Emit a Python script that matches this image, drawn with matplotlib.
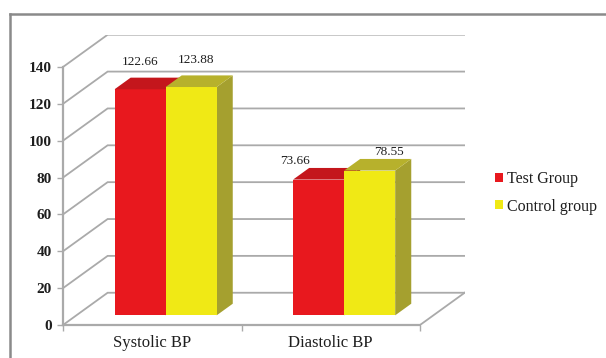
"""3-D style clustered column chart: systolic / diastolic BP, test vs control."""

import matplotlib
matplotlib.use("Agg")
import matplotlib.pyplot as plt
from matplotlib.lines import Line2D
from matplotlib.patches import Polygon

plt.rcParams["font.family"] = ["Liberation Serif", "DejaVu Serif"]

# ---- data -----------------------------------------------------------------
CATEGORIES = ["Systolic BP", "Diastolic BP"]
SERIES = ["Test Group", "Control group"]
TEST_VALUES = [122.66, 73.66]
CONTROL_VALUES = [123.88, 78.55]
Y_TICKS = [0, 20, 40, 60, 80, 100, 120, 140]

# ---- style / layout ---------------------------------------------------------
FRONT = ["#E8181E", "#F0E915"]
TOP = ["#C4161C", "#B7B12C"]
SIDE = ["#9E1216", "#A5A02F"]
GRID = "#AAAAAA"
TEXT = "#1E1E1E"

DEPTH_X, DEPTH_Y = 0.25, 17.5          # wall depth in (category, value) units
Z_FRAC, BAR_DEPTH_FRAC = 0.30, 0.36    # where the bars sit inside the depth
BAR_W = 0.286
LABEL_OFFSETS = [[(-6, 7), (-23, 1)],   # (dx, dy) in points, per series/category
                 [(-2, 7), (8, 1)]]

W, H = 606, 358
fig = plt.figure(figsize=(W / 100, H / 100), dpi=100)
n_cat = len(CATEGORIES)
px_per_cat = 178.5
px_per_val = 1.843
x_max = n_cat + DEPTH_X
y_max = Y_TICKS[-1] + DEPTH_Y
ax = fig.add_axes([63 / W, (H - 325) / H,
                   x_max * px_per_cat / W, y_max * px_per_val / H])
ax.set_xlim(0, x_max)
ax.set_ylim(0, y_max)

# walls: side-wall diagonals + back-wall gridlines + floor
for v in Y_TICKS:
    ax.plot([0, DEPTH_X, x_max], [v, v + DEPTH_Y, v + DEPTH_Y],
            color=GRID, lw=1.3, zorder=1, solid_joinstyle="miter")
ax.plot([n_cat, x_max], [0, DEPTH_Y], color=GRID, lw=1.3, zorder=1)

# bars
zx, zy = Z_FRAC * DEPTH_X, Z_FRAC * DEPTH_Y
bx, by = BAR_DEPTH_FRAC * DEPTH_X, BAR_DEPTH_FRAC * DEPTH_Y
handles = []
for s, values in enumerate([TEST_VALUES, CONTROL_VALUES]):
    lefts = [c + 0.5 - BAR_W + s * BAR_W + zx for c in range(n_cat)]
    cont = ax.bar(lefts, values, width=BAR_W, bottom=zy, align="edge",
                  color=FRONT[s], edgecolor="none", zorder=3 + s * 2,
                  label=SERIES[s])
    handles.append(cont)
    for c, (x0, v) in enumerate(zip(lefts, values)):
        yt = v + zy
        ax.add_patch(Polygon([(x0, yt), (x0 + BAR_W, yt),
                              (x0 + BAR_W + bx, yt + by), (x0 + bx, yt + by)],
                             closed=True, facecolor=TOP[s], edgecolor="none",
                             zorder=3 + s * 2))
        ax.add_patch(Polygon([(x0 + BAR_W, zy), (x0 + BAR_W + bx, zy + by),
                              (x0 + BAR_W + bx, yt + by), (x0 + BAR_W, yt)],
                             closed=True, facecolor=SIDE[s], edgecolor="none",
                             zorder=2 + s * 2))
        dx, dy = LABEL_OFFSETS[s][c]
        ax.annotate(f"{v:.2f}", (x0 + BAR_W / 2 + bx / 2, yt + by),
                    xytext=(dx, dy), textcoords="offset points",
                    ha="center", va="bottom", fontsize=9.5, color=TEXT,
                    zorder=10)

# axes
for side in ["top", "right"]:
    ax.spines[side].set_visible(False)
for side in ["left", "bottom"]:
    ax.spines[side].set_color(GRID)
    ax.spines[side].set_linewidth(1.6)
    ax.spines[side].set_zorder(2)
ax.spines["left"].set_bounds(0, Y_TICKS[-1])
ax.spines["bottom"].set_bounds(0, n_cat)
ax.set_yticks(Y_TICKS)
ax.tick_params(axis="y", direction="out", length=4, width=1, color=GRID,
               labelsize=11, labelcolor=TEXT, pad=4)
ax.set_xticks(range(n_cat + 1))
ax.set_xticklabels([])
ax.set_xticks([c + 0.5 for c in range(n_cat)], minor=True)
ax.set_xticklabels(CATEGORIES, minor=True)
ax.tick_params(axis="x", which="major", direction="out", length=4, width=1,
               color=GRID)
ax.tick_params(axis="x", which="minor", length=0, pad=7, labelsize=12,
               labelcolor=TEXT)
for lab in ax.get_yticklabels():
    lab.set_fontweight("bold")

fig.legend(handles=handles, loc="upper left",
           bbox_to_anchor=(481 / W, 1 - 157 / H), frameon=False,
           fontsize=11.5, handlelength=0.5, handleheight=0.5,
           handletextpad=0.2, labelspacing=0.7, labelcolor=TEXT)

# outer chart frame (left and top edges)
fig.add_artist(Line2D([10 / W, 10 / W], [0, 1 - 14 / H],
                      transform=fig.transFigure, color="#8A8A8A", lw=1.8))
fig.add_artist(Line2D([10 / W, 1], [1 - 14 / H, 1 - 14 / H],
                      transform=fig.transFigure, color="#8A8A8A", lw=1.8))

fig.savefig("out.png", dpi=100)
